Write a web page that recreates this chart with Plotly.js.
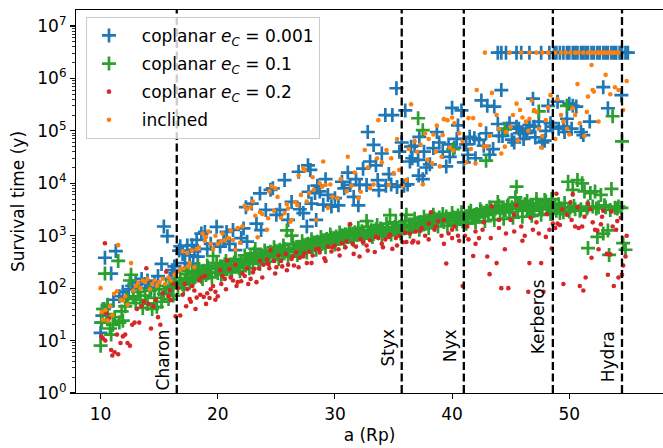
<!DOCTYPE html>
<html><head><meta charset="utf-8">
<script src="https://cdn.plot.ly/plotly-3.0.1.min.js"></script>
<style>html,body{margin:0;padding:0;background:#fff}#chart{width:663px;height:448px}</style>
</head><body><div id="chart"></div>
<script>
// semi-major axis a (Rp), survival time (y)
const blueData = [[10.0,14],[10.05,22],[10.15,30],[10.3,40],[10.37,380],[10.6,45],[10.9,190],[11.1,60],[11.3,510],[11.6,70],[11.9,85],[12.2,65],[12.4,95],[12.7,110],[13.0,130],[13.2,100],[13.5,150],[13.8,120],[14.0,140],[14.3,100],[14.6,130],[14.9,170],[15.2,290],[15.4,1500],[15.7,980],[15.9,150],[16.1,220],[16.3,260],
[16.7,520],[16.8,630],[17.0,450],[17.2,300],[17.4,650],[17.6,420],[17.8,660],[17.9,295],[18.0,500],[18.2,830],[18.3,400],[18.6,1100],[18.9,1180],[19.1,560],[19.4,700],[19.9,1480],[20.2,620],[20.5,800],[20.75,1180],[21.0,700],[21.3,1290],[21.5,530],[22.0,900],[22.2,1380],[22.4,3500],[22.5,770],[22.9,4100],[23.3,1700],[23.6,6400],[23.7,1280],[24.1,3100],[24.5,7500],[24.7,8000],[25.0,2500],[25.3,3100],[25.7,11500],[26.0,2000],[26.3,4400],[26.9,16600],[27.0,3200],[27.3,2700],[27.6,1500],[27.7,22000],[27.75,6900],[27.9,18000],[28.0,4100],[28.3,6500],[28.4,2000],[28.5,9000],[28.7,7000],[29.0,3900],[29.2,12000],[29.4,6000],[29.7,3600],[30.0,5200],[30.3,3800],[30.6,10700],[30.8,8000],[31.1,16000],[31.3,9300],[31.6,5500],[31.8,12000],[32.0,3800],[32.1,9300],[32.4,19000],[32.7,9300],[32.8,95000],[33.0,26000],[33.3,54000],[33.5,22000],[33.65,11500],[33.75,7400],[34.0,37000],[34.3,200000],[34.35,9000],[34.6,15000],[34.8,9500],[34.9,200000],[35.25,650000],[35.3,8500],[35.5,40000],[35.7,60000],[35.9,9000],[36.0,245000],[36.2,9500],[36.5,50000],[36.4,26000],[36.6,30000],[36.8,52000],[37.1,28000],[37.15,14000],[37.2,77000],[37.5,12000],[37.6,40000],[37.8,20000],[38.1,23000],[38.4,47000],[38.7,95000],[38.9,60000],[39.2,40000],[39.5,21000],[39.7,55000],[39.8,32000],[40.0,275000],[40.2,48000],[40.4,70000],[40.5,127000],[40.8,245000],[41.0,25000],[41.2,55000],[41.35,35000],[41.5,77000],[41.9,72000],[42.0,30000],[42.3,67000],[42.5,380000],[42.7,52000],[42.9,90000],[43.0,300000],[43.2,35000],[43.5,45000],[43.6,290000],[43.9,135000],[44.0,80000],[44.2,600000],[44.3,80000],[44.7,110000],[44.9,140000],[45.1,68000],[45.5,120000],[45.3,60000],[45.7,110000],[45.8,90000],[46.1,70000],[46.3,90000],[46.4,100000],[46.6,130000],[46.9,410000],[47.0,120000],[47.1,75000],[47.4,150000],[47.7,60000],[47.9,65000],[48.0,100000],[48.2,300000],[48.4,140000],[48.6,120000],[49.0,360000],[49.1,110000],[49.5,120000],[49.6,95000],[49.8,170000],[50.0,330000],[50.2,110000],[50.3,300000],[50.6,290000],[51.0,95000],[51.2,83000],[51.75,150000],[52.9,680000],[53.3,270000],[54.45,480000]];
const bluePlateauA = [43.9,44.2,44.6,45.5,45.9,46.6,47.6,48.3,48.7,48.9,49.2,49.5,49.8,50.0,50.3,50.5,50.7,51.0,51.2,51.4,51.6,51.9,52.1,52.4,52.6,52.9,53.1,53.3,53.6,53.8,54.0,54.3,54.5,54.8,55.0];
const plateauT = 3.1e6;

const greenData = [[10.0,8],[10.1,22],[10.2,40],[10.37,190],[10.5,32],[10.6,48],[10.8,17],[10.9,13],[11.05,20],[11.2,28],[11.5,330],[11.6,22],[11.8,36],[11.9,24],[12.1,45],[12.3,62],[12.5,140],[12.6,180],[12.8,70],[13.0,52],[13.2,85],[13.4,60],[13.6,42],[13.8,72],[14.0,50],[14.2,90],[14.4,40],[14.6,65],[14.8,44],[15.0,95],[15.2,55],[15.4,78],[15.6,110],[15.8,62],[16.0,100],[16.2,72],[16.4,135],[16.6,105],[16.8,155],[17.0,118],[17.2,145],[17.4,185],[17.6,128],[17.8,205],[18.0,160],[18.2,195],[18.4,230],[18.6,165],[18.8,215],[19.0,178],[19.2,245],[19.4,198],[19.6,410],[19.8,232],[20.0,195],[20.2,255],[20.4,210],[20.6,285],[20.8,228],[21.0,265],[21.2,215],[21.4,310],[21.6,262],[21.8,245],[22.0,330],[22.2,275],[22.4,360],[22.6,295],[22.8,390],[23.0,335],[23.2,560],[23.3,400],[23.5,355],[23.7,430],[23.9,372],[24.1,460],[24.3,395],[24.5,495],[24.7,420],[24.9,515],[25.1,450],[25.3,540],[25.5,470],[25.7,560],[25.9,1260],[26.1,495],[26.3,1000],[26.5,575],[26.7,510],[26.9,615],[27.1,550],[27.3,660],[27.5,590],[27.7,700],[27.9,610],[28.1,740],[28.3,650],[28.5,770],[28.7,690],[28.9,820],[29.1,730],[29.3,870],[29.5,770],[29.7,920],[29.9,810],[30.1,970],[30.3,870],[30.5,1020],[30.7,900],[30.9,1070],[31.1,950],[31.3,1120],[31.5,990],[31.7,1170],[31.9,1030],[32.1,1090],[32.3,1220],[32.5,990],[32.7,1900],[32.9,1140],[33.1,1270],[33.3,1080],[33.5,1330],[33.7,1180],[33.9,1370],[34.1,1230],[34.3,1130],[34.5,1420],[34.7,2460],[34.9,1290],[35.1,1470],[35.3,1330],[35.5,1230],[35.7,1520],[35.9,1380],[36.1,2500],[36.3,1430],[36.5,1620],[36.7,1480],[36.9,1720],[37.1,174000],[37.15,1580],[37.3,1820],[37.5,103000],[37.55,1640],[37.7,1920],[37.9,1730],[38.1,2020],[38.3,1780],[38.5,2130],[38.7,1880],[38.9,2230],[39.1,1980],[39.3,1830],[39.5,2330],[39.7,2080],[39.9,1930],[40.1,45000],[40.15,2230],[40.3,1980],[40.5,2430],[40.7,2080],[40.9,1880],[41.1,2300],[41.3,2100],[41.45,2750],[41.7,2400],[41.9,2200],[42.1,2600],[42.3,2300],[42.5,2900],[42.7,2500],[42.9,27000],[42.95,3000],[43.1,2600],[43.3,3200],[43.5,2700],[43.7,3300],[43.9,4400],[44.1,2900],[44.3,3400],[44.5,107000],[44.55,3100],[44.7,3600],[44.9,2800],[45.1,3500],[45.4,5400],[45.5,8600],[45.6,3200],[45.8,3800],[46.0,3000],[46.2,4000],[46.4,3300],[46.6,3200],[46.8,3600],[47.0,3000],[47.2,4200],[47.4,235000],[47.45,3500],[47.7,3200],[47.9,4800],[48.1,3600],[48.3,3200],[48.5,5000],[48.7,3400],[48.9,3000],[49.1,4000],[49.3,3300],[49.5,2800],[49.8,300000],[49.9,10700],[50.1,3500],[50.3,7500],[50.5,3200],[50.7,11500],[50.9,3000],[51.1,10000],[51.3,7000],[51.5,3300],[51.6,580],[51.8,6500],[52.0,3600],[52.2,7000],[52.4,950],[52.5,3500],[52.7,6000],[52.9,1100],[53.1,3500],[53.3,1260],[53.4,430],[53.6,7800],[53.7,190000],[53.9,3400],[54.1,3300],[54.5,63000],[54.45,3400],[54.6,720],[54.8,540]];
const greenExtra = [[17.1,100],[17.5,210],[17.9,140],[18.3,260],[18.7,150],[19.1,270],[19.5,160],[19.9,300],[20.3,180],[20.7,330],[21.1,200],[21.5,360],[21.9,210],[22.3,420],[22.7,240],[23.1,460],[23.6,290],[24.0,520],[24.4,320],[24.8,600],[25.2,360],[25.6,650],[26.0,400],[26.4,700],[26.8,430],[27.2,780],[27.6,480],[28.0,860],[28.4,540],[28.8,950],[29.2,600],[29.6,1050],[30.0,680],[30.4,1150],[30.8,750],[31.2,1300],[31.6,820],[32.0,1400],[32.4,880],[32.8,1500],[33.2,950],[33.6,1600],[34.0,1000],[34.4,1700],[34.8,1050],[35.2,1800],[35.6,1100],[36.0,1900],[36.4,1200],[36.8,2100],[37.2,1300],[37.6,2300],[38.0,1400],[38.4,2500],[38.8,1500],[39.2,2600],[39.6,1550],[40.0,2700],[40.4,1650],[40.8,2800],[41.2,1700],[41.6,3000],[42.0,1800],[42.4,3200],[42.8,1900],[43.2,3500],[43.6,2000],[44.0,3700],[44.4,2100],[44.8,3900],[45.2,2200],[45.6,4200],[46.0,2300],[46.4,4600],[46.8,2400],[47.2,5000],[47.6,2500],[48.0,4500],[48.4,2600],[48.8,3800],[49.2,2700],[49.6,4200],[50.0,2900],[50.4,3700],[51.0,3200],[51.6,3600],[52.3,3300],[53.0,3800],[53.5,3100],[54.2,3600]];

const redData = [[10.07,12],[10.2,11],[10.37,720],[10.4,10],[10.5,33],[10.7,26],[10.9,6.6],[11.0,5.2],[11.2,6],[11.4,13],[11.5,5.5],[11.7,9],[11.9,12],[12.1,13],[12.3,9],[12.5,8],[12.7,20],[12.9,22],[13.1,40],[13.3,22],[13.5,45],[13.7,55],[13.9,240],[14.1,50],[14.3,17],[14.5,45],[14.7,60],[14.9,28],[15.1,20],[15.3,80],[15.6,205],[15.8,70],[15.9,91],[16.0,59],[16.2,120],[16.4,29],[16.6,100],[16.8,30],[17.0,75],[17.2,120],[17.4,95],[17.6,62],[17.8,110],[18.0,90],[18.2,66],[18.4,140],[18.6,160],[18.8,68],[18.9,170],[19.1,80],[19.3,65],[19.6,110],[19.8,85],[20.0,70],[20.2,220],[20.4,170],[20.6,150],[20.8,340],[21.0,230],[21.3,140],[21.5,280],[21.7,130],[22.0,135],[22.3,170],[22.5,240],[22.8,150],[23.0,200],[23.3,130],[23.5,240],[23.6,330],[23.9,280],[24.2,350],[24.4,240],[24.5,530],[24.8,330],[25.0,250],[25.2,420],[25.5,260],[25.8,450],[26.0,280],[26.3,360],[26.5,270],[26.7,480],[27.0,380],[27.3,400],[27.6,300],[27.8,500],[28.1,420],[28.4,550],[28.7,480],[29.1,370],[29.4,620],[29.7,500],[30.0,650],[30.3,550],[30.6,720],[30.9,600],[31.3,1660],[31.5,700],[31.8,620],[32.1,400],[32.4,750],[32.7,650],[33.0,820],[33.4,490],[33.7,900],[34.0,700],[34.3,850],[34.6,950],[34.9,560],[35.2,900],[35.5,1000],[35.8,750],[36.1,760],[36.4,1100],[36.6,740],[36.9,1200],[37.1,740],[37.4,1400],[37.7,1000],[38.0,1700],[38.2,2800],[38.5,1300],[38.8,1900],[39.1,1000],[39.3,2000],[39.5,295],[39.7,1100],[40.0,900],[40.2,1500],[40.5,1000],[40.9,110],[41.1,1000],[41.4,850],[41.8,410],[42.0,1200],[42.3,900],[42.7,1800],[43.0,400],[43.2,185],[43.4,3600],[43.8,300],[44.0,1400],[44.2,100],[44.5,550],[44.8,100],[45.0,2000],[45.3,1200],[45.5,3800],[45.9,1500],[46.2,1000],[46.5,85],[46.6,300],[46.9,1300],[47.2,1800],[47.6,300],[47.8,85],[48.0,950],[48.3,1300],[48.5,570],[48.6,1700],[48.9,6300],[49.0,1700],[49.2,1600],[49.5,120],[49.8,2500],[50.1,4300],[50.3,6200],[50.5,1500],[50.8,1400],[50.9,110],[51.1,1500],[51.2,90],[51.4,160],[51.6,4100],[51.8,3200],[51.9,380],[52.2,1300],[52.4,1250],[52.5,550],[52.7,1650],[52.8,2300],[53.2,450],[53.3,180],[53.5,440],[53.6,2900],[53.8,110],[54.0,1300],[54.1,1900],[54.2,160],[54.5,180],[54.6,270],[54.8,400],[54.9,1000]];
const redExtra = [[17.3,45],[17.7,55],[18.1,40],[18.5,75],[19.0,50],[19.4,95],[19.8,60],[20.3,120],[20.7,95],[21.1,160],[21.6,110],[22.1,190],[22.6,120],[23.1,230],[23.8,160],[24.3,290],[24.9,190],[25.4,330],[25.9,220],[26.4,400],[26.9,250],[27.4,460],[28.0,300],[28.6,560],[29.2,330],[29.8,600],[30.4,420],[31.0,780],[31.6,450],[32.2,860],[32.8,520],[33.5,950],[34.1,600],[34.7,1050],[35.3,650],[36.0,1150],[36.7,800],[37.3,1250],[38.0,850],[38.6,1500],[39.3,700],[40.0,1300],[40.6,800],[41.3,1500],[42.0,700],[42.6,1300],[43.3,900],[44.0,2000],[44.6,1100],[45.3,2500],[46.0,800],[46.7,2200],[47.4,1100],[48.1,2600],[48.8,1400],[49.4,3200],[50.2,2000],[50.7,3500],[51.3,2300],[52.0,1800],[52.9,3000],[53.7,1500],[54.4,2200]];

const orangeData = [[10.0,100],[10.1,35],[10.2,25],[10.4,38],[10.6,24],[10.8,45],[11.0,30],[11.15,78],[11.4,87],[11.5,660],[11.7,60],[11.9,58],[12.1,70],[12.3,48],[12.6,300],[12.8,90],[13.0,110],[13.2,125],[13.4,100],[13.6,140],[13.8,130],[14.0,150],[14.2,95],[14.4,120],[14.6,140],[14.8,110],[15.0,130],[15.3,150],[15.5,120],[15.8,160],[16.0,140],[16.3,180],[16.5,200],[16.8,230],[17.0,500],[17.1,240],[17.4,470],[17.5,260],[17.6,300],[17.8,520],[18.0,250],[18.2,550],[18.4,600],[18.7,1100],[18.9,800],[19.0,950],[19.2,1200],[19.4,700],[19.6,560],[19.8,1000],[20.0,700],[20.3,780],[20.4,1100],[20.6,820],[20.9,900],[21.1,1250],[21.3,830],[21.5,540],[21.7,1400],[21.9,730],[22.1,1500],[22.3,3700],[22.5,3200],[22.8,3500],[23.0,4500],[23.2,2400],[23.4,930],[23.6,2800],[23.8,2600],[24.2,1300],[24.3,2150],[24.4,7000],[24.6,8800],[24.8,3000],[24.9,8000],[25.1,5500],[25.4,2200],[25.7,2700],[25.9,4000],[26.0,3300],[26.2,1850],[26.3,2000],[26.6,4400],[26.8,3800],[26.9,14000],[27.1,6000],[27.3,19600],[27.4,17800],[27.6,4500],[27.8,6500],[28.1,13000],[28.2,7500],[28.4,2000],[28.7,10000],[28.9,8500],[29.0,26000],[29.2,9300],[29.4,3400],[29.6,9500],[29.8,5500],[30.2,5200],[30.5,12000],[31.0,7000],[31.1,32000],[31.4,9000],[31.7,16000],[32.0,5200],[32.2,6900],[32.55,43000],[32.8,20000],[33.0,8000],[33.3,9500],[33.6,30000],[33.7,160000],[34.0,25000],[34.4,43000],[34.6,9300],[34.8,30000],[35.0,15600],[35.3,70000],[35.5,18000],[35.8,9000],[36.1,11500],[36.3,45000],[36.5,320000],[36.8,63000],[37.0,40000],[37.3,55000],[37.5,9600],[37.7,90000],[37.9,28000],[38.0,70000],[38.3,24000],[38.4,85000],[38.6,40000],[38.7,126000],[38.95,21000],[39.1,32000],[39.2,83000],[39.3,167000],[39.6,160000],[39.8,48000],[40.0,180000],[40.1,42000],[40.2,140000],[40.6,90000],[40.9,63000],[41.2,25000],[41.4,175000],[41.6,45000],[41.8,175000],[42.0,24000],[42.1,600000],[42.4,130000],[42.7,50000],[43.0,50000],[43.2,80000],[43.4,530000],[43.8,200000],[44.0,110000],[44.2,37000],[44.5,50000],[44.6,95000],[45.0,120000],[45.2,200000],[45.5,330000],[45.6,65000],[45.8,250000],[46.0,180000],[46.3,150000],[46.5,100000],[46.6,170000],[46.8,380000],[47.0,250000],[47.2,230000],[47.4,110000],[47.6,48000],[47.7,80000],[48.0,160000],[48.2,280000],[48.4,480000],[48.8,70000],[49.0,400000],[49.3,200000],[49.5,150000],[49.8,110000],[50.0,85000],[50.3,270000],[50.5,200000],[50.7,780000],[50.9,140000],[51.3,80000],[51.5,230000],[51.6,450000],[51.9,1800000],[52.0,600000],[52.1,560000],[52.5,150000],[53.1,1170000],[53.5,500000],[53.9,680000],[54.2,600000],[54.6,250000],[54.9,890000]];
const orangePlateauA = [42.8,44.9,45.9,46.6,47.2,47.7,48.2,48.8,49.3,49.7,50.1,50.5,50.8,51.2,51.6,51.9,52.2,52.4,52.6,52.8,53.0,53.2,53.4,53.6,53.8,54.0,54.2];

const moonNames = ['Charon','Styx','Nyx','Kerberos','Hydra'];
const moonA = [16.5,35.7,41.0,48.6,54.5];

const yTickVals = [1,10,100,1e3,1e4,1e5,1e6,1e7];
const yTickText = ['10<sup>0</sup>','10<sup>1</sup>','10<sup>2</sup>','10<sup>3</sup>','10<sup>4</sup>','10<sup>5</sup>','10<sup>6</sup>','10<sup>7</sup>'];
const xTickVals = [10,20,30,40,50];

// ---- build ----
const labelY = [0.087,0.118,0.124,0.2,0.096];
const minorVals = [];
for (let d = 0; d <= 7; d++) for (let k = 2; k <= 9; k++) { const v = k*Math.pow(10,d); if (v < 2e7) minorVals.push(v); }

function build(parts, plat){ const x = [], y = []; parts.forEach(arr=>arr.forEach(p=>{x.push(p[0]); y.push(p[1]);})); (plat||[]).forEach(a=>{x.push(a); y.push(plateauT);}); return {x,y}; }
const B = build([blueData], bluePlateauA);
const G = build([greenData, greenExtra]);
const R = build([redData, redExtra]);
const O = build([orangeData], orangePlateauA);
const FONT = 'DejaVu Sans, Verdana, sans-serif';
const FS = 17;
const NB = '\u00a0\u00a0';

const traces = [
 {type:'scatter', mode:'markers', x:B.x, y:B.y, name:NB+'coplanar <i>e</i><sub><i>C</i></sub> = 0.001', legendgroup:'a',
  marker:{symbol:'cross-thin', size:10, color:'#1f77b4', line:{color:'#1f77b4', width:2.7}}},
 {type:'scatter', mode:'markers', x:G.x, y:G.y, name:NB+'coplanar <i>e</i><sub><i>C</i></sub> = 0.1', legendgroup:'b',
  marker:{symbol:'cross-thin', size:10, color:'#2ca02c', line:{color:'#2ca02c', width:2.7}}},
 {type:'scatter', mode:'markers', x:R.x, y:R.y, name:NB+'coplanar <i>e</i><sub><i>C</i></sub> = 0.2', legendgroup:'c',
  marker:{symbol:'circle', size:4.6, color:'#d62728', line:{width:0}}},
 {type:'scatter', mode:'markers', x:O.x, y:O.y, name:NB+'inclined', legendgroup:'d',
  marker:{symbol:'circle', size:4.6, color:'#ff7f0e', line:{width:0}}}
];

const layout = {
 width:663, height:448,
 margin:{l:76, r:0, t:10, b:55.2, pad:0},
 paper_bgcolor:'#ffffff', plot_bgcolor:'#ffffff',
 font:{family:FONT, size:FS, color:'#000'},
 showlegend:true,
 legend:{x:0.017, y:0.982, xanchor:'left', yanchor:'top', bgcolor:'rgba(255,255,255,0.8)', bordercolor:'#cccccc', borderwidth:1,
   font:{family:FONT, size:FS, color:'#000'}, tracegroupgap:3, itemwidth:34, traceorder:'grouped'},
 xaxis:{range:[7.9,58.0], showline:true, linecolor:'#000', linewidth:1.1, mirror:true, ticks:'outside', ticklen:5, tickwidth:1.1, tickcolor:'#000',
   showgrid:false, zeroline:false, tickmode:'array', tickvals:xTickVals, tickfont:{family:FONT,size:FS},
   title:{text:'a (Rp)', standoff:6, font:{family:FONT,size:FS}}, automargin:false},
 yaxis:{type:'log', range:[0,7.305], showline:true, linecolor:'#000', linewidth:1.1, ticks:'outside', ticklen:5, tickwidth:1.1, tickcolor:'#000',
   showgrid:false, zeroline:false, tickmode:'array', tickvals:yTickVals, ticktext:yTickText, tickfont:{family:FONT,size:FS},
   minor:{tickmode:'array', tickvals:minorVals, ticks:'outside', ticklen:2.8, tickwidth:0.8, tickcolor:'#000', showgrid:false},
   title:{text:'Survival time (y)', standoff:8, font:{family:FONT,size:FS}}, automargin:false},
 shapes: moonA.map(a=>({type:'line', xref:'x', yref:'paper', x0:a, x1:a, y0:0, y1:1, layer:'above', line:{color:'#000', width:2.3, dash:'8px,3.5px'}})),
 annotations: moonNames.map((n,i)=>({text:n, x:moonA[i], xref:'x', y:labelY[i], yref:'paper', textangle:-90, xanchor:'right', yanchor:'middle', xshift:-3,
   showarrow:false, font:{family:FONT,size:FS,color:'#000'}, borderpad:0}))
};

Plotly.newPlot('chart', traces, layout, {staticPlot:true, displayModeBar:false});
</script></body></html>
